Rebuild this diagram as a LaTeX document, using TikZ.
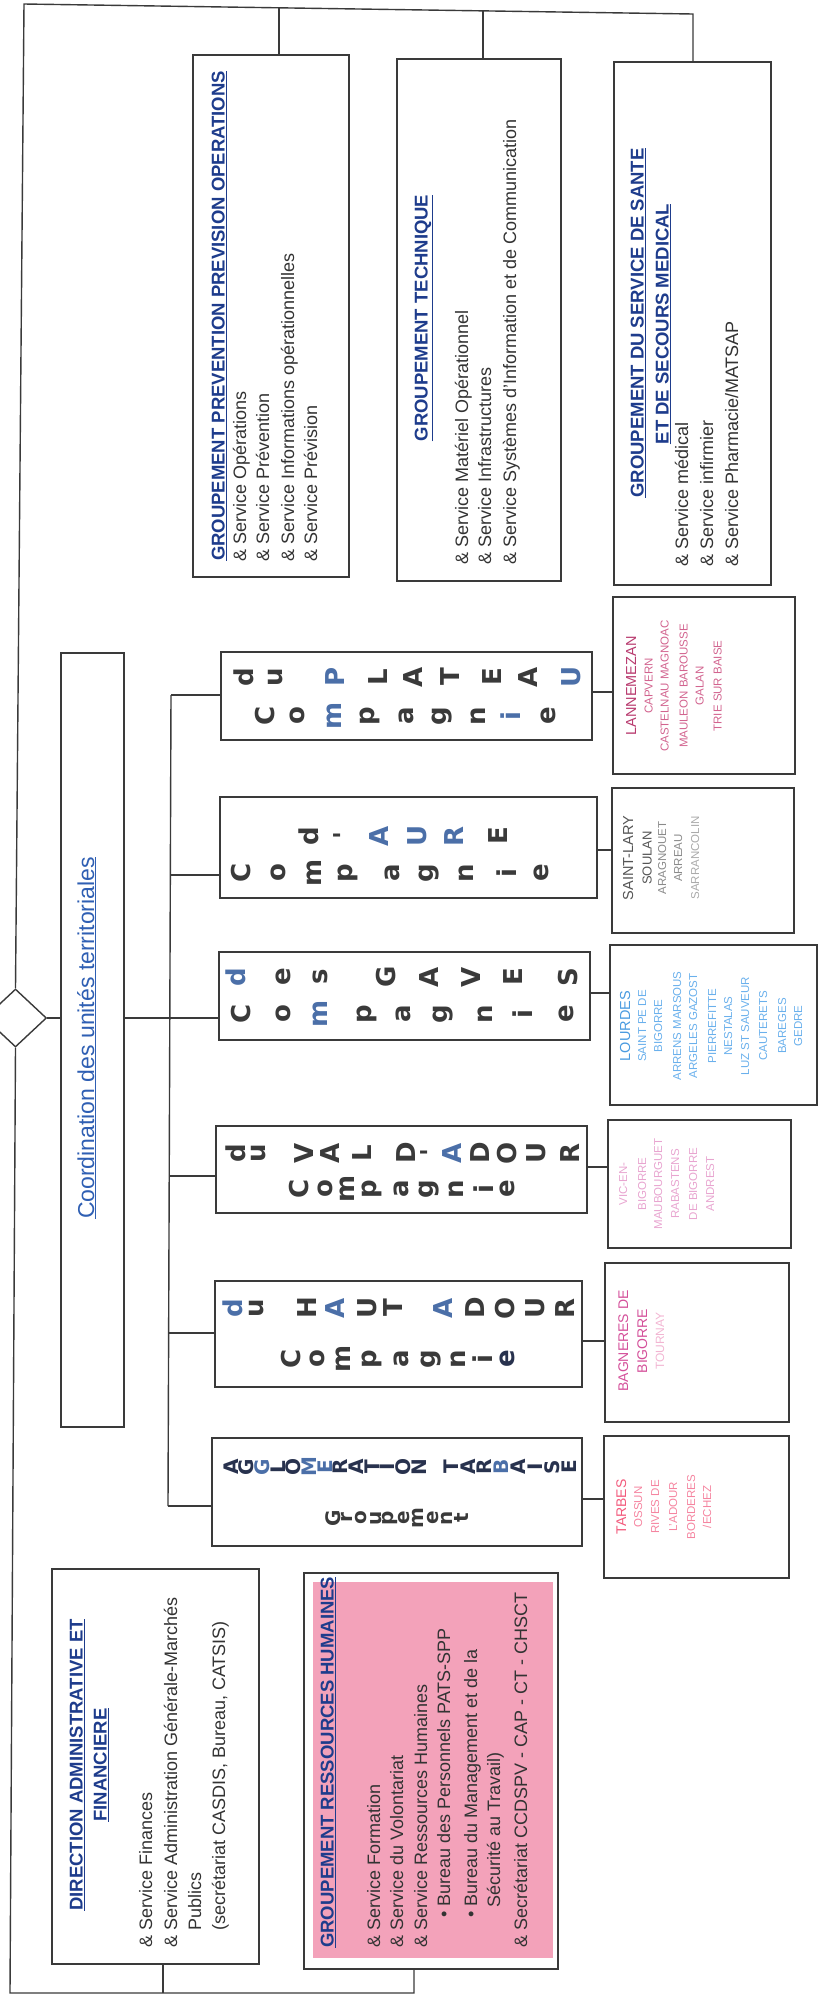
\documentclass[tikz,border=0pt]{standalone}
\usepackage{fontspec}
\setmainfont{Liberation Sans}
\newfontfamily\letterfont{DejaVu Sans}
\usetikzlibrary{fit,shapes.geometric}
\definecolor{linec}{HTML}{3A3A3A}
\definecolor{letc}{HTML}{3A3A3A}
\definecolor{letb}{HTML}{4B6FA8}
\definecolor{navyl}{HTML}{28324E}
\definecolor{headc}{HTML}{1E3C8C}
\definecolor{bodyc}{HTML}{333333}
\definecolor{coordc}{HTML}{2F5FB3}
\definecolor{pinkc}{RGB}{243,162,186}
\definecolor{lanA}{HTML}{B83A6E}
\definecolor{lanB}{HTML}{D2648F}
\definecolor{slA}{HTML}{555555}
\definecolor{slB}{HTML}{8A8A8A}
\definecolor{slC}{HTML}{AAAAAA}
\definecolor{louA}{HTML}{4A9BE0}
\definecolor{louB}{HTML}{6AB0EC}
\definecolor{vicc}{HTML}{E8A5D0}
\definecolor{bagA}{HTML}{D4509A}
\definecolor{bagB}{HTML}{F2B5D2}
\definecolor{tarA}{HTML}{F25A7C}
\definecolor{tarB}{HTML}{F585A0}
\newcounter{tn}
\newcommand\vtxt[4][]{\stepcounter{tn}\node[vt,#1] (vt\thetn) at (#2,#3) {#4};}
\newcommand\ltxt[4][]{\stepcounter{tn}\node[loc,#1] (lc\thetn) at (#2,#3) {#4};}
\begin{document}
\begin{tikzpicture}[x=1pt,y=-1pt,
  box/.style={draw=linec, line width=1.4pt, inner sep=0pt},
  conn/.style={draw=linec, line width=1.4pt},
  lt/.style={rotate=90, inner sep=0pt, font=\letterfont\bfseries\fontsize{26}{26}\selectfont, text=letc},
  lts/.style={rotate=90, inner sep=0pt, font=\letterfont\bfseries\fontsize{20}{20}\selectfont, text=letc},
  vt/.style={rotate=90, anchor=base west, inner sep=0pt, font=\fontsize{18}{22}\selectfont, text=bodyc},
  hd/.style={anchor=base, font=\bfseries\fontsize{18.5}{22}\selectfont, text=headc},
  loc/.style={rotate=90, anchor=base, inner sep=0pt, font=\fontsize{11.5}{14}\selectfont},
  big/.style={font=\fontsize{14.5}{16}\selectfont}
]
\useasboundingbox (0,0) rectangle (820,1995);

% ---------- boxes
\node[box, fit={(193,55) (349,577)}] (prev) {};
\node[box, fit={(397,59) (561,581)}] (tech) {};
\node[box, fit={(614,62) (771,585)}] (sante) {};
\node[box, fit={(61,653) (124,1427)}] (coord) {};
\node[box, fit={(221,652) (592,740)}] (plat) {};
\node[box, fit={(220,797) (597,898)}] (aure) {};
\node[box, fit={(219,952) (590,1040)}] (gaves) {};
\node[box, fit={(216,1126) (587,1213)}] (val) {};
\node[box, fit={(215,1281) (582,1387)}] (haut) {};
\node[box, fit={(212,1438) (582,1546)}] (agglo) {};
\node[box, fit={(613,597) (795,774)}] (lanne) {};
\node[box, fit={(612,788) (794,933)}] (slary) {};
\node[box, fit={(610,945) (817,1105)}] (lourdes) {};
\node[box, fit={(608,1120) (791,1248)}] (vic) {};
\node[box, fit={(605,1263) (789,1422)}] (bagn) {};
\node[box, fit={(604,1436) (789,1578)}] (tarbes) {};
\node[box, fit={(52,1569) (259,1964)}] (dir) {};
\node[fill=pinkc, inner sep=0pt, fit={(313,1582) (553,1958)}] (grhfill) {};
\node[box, fit={(304,1573) (558,1969)}] (grh) {};
\node[draw=linec, line width=1.4pt, diamond, minimum width=62pt, minimum height=58pt, inner sep=0pt] (dia) at (15.5,1018) {};

% ---------- connectors
\coordinate (c0) at (24,4);
\coordinate (cR) at (693,14);
\coordinate (d1) at (279,8);
\coordinate (d2) at (483,11);
\coordinate (cB) at (10,1993);
\coordinate (cE) at (414,1993);
\coordinate (d4) at (163,1993);
\draw[conn] (cR |- sante.north) -- (cR) -- (c0) -- (dia.north);
\draw[conn] (d1) -- (d1 |- prev.north);
\draw[conn] (d2) -- (d2 |- tech.north);
\draw[conn] (dia.south) -- (cB) -- (cE) -- (cE |- grh.south);
\draw[conn] (d4) -- (d4 |- dir.south);
\draw[conn] (dia.east) -- (dia.east -| coord.west);
\draw[conn] (coord.east |- dia.east) -- (gaves.west |- dia.east);
\coordinate (b1) at (171,695);
\coordinate (b2) at (170.5,875);
\coordinate (b4) at (169.5,1176);
\coordinate (b5) at (169,1333);
\coordinate (b6) at (168,1506);
\draw[conn] (b1) -- (b6);
\draw[conn] (b1) -- (b1 -| plat.west);
\draw[conn] (b2) -- (b2 -| aure.west);
\draw[conn] (b4) -- (b4 -| val.west);
\draw[conn] (b5) -- (b5 -| haut.west);
\draw[conn] (b6) -- (b6 -| agglo.west);
\coordinate (r1) at (600,692);
\coordinate (r2) at (600,850);
\coordinate (r3) at (600,993);
\coordinate (r4) at (600,1167);
\coordinate (r5) at (600,1341);
\coordinate (r6) at (600,1499);
\draw[conn] (r1 -| plat.east) -- (r1 -| lanne.west);
\draw[conn] (r2 -| aure.east) -- (r2 -| slary.west);
\draw[conn] (r3 -| gaves.east) -- (r3 -| lourdes.west);
\draw[conn] (r4 -| val.east) -- (r4 -| vic.west);
\draw[conn] (r5 -| haut.east) -- (r5 -| bagn.west);
\draw[conn] (r6 -| agglo.east) -- (r6 -| tarbes.west);

% ---------- stacked letters of the companies
\foreach \x/\c/\k in {244/d/letc,276/u/letc,335/P/letb,378/L/letc,413/A/letc,450/T/letc,492/E/letc,528/A/letc,571/U/letb}
  \node[lt, text=\k] (pu\x) at (\x,677) {\c};
\foreach \x/\c/\k in {265/C/letc,297/o/letc,334/m/letb,370/p/letc,406/a/letc,442/g/letc,478/n/letc,511/i/letb,548/e/letc}
  \node[lt, text=\k] (pl\x) at (\x,716) {\c};
\foreach \x/\c/\k in {309/d/letc,343/'/letc,379/A/letb,417/U/letb,454/R/letb,498/E/letc}
  \node[lt, text=\k] (au\x) at (\x,836) {\c};
\foreach \x/\c/\k in {241/C/letc,278/o/letc,314/m/letc,348/p/letc,392/a/letc,429/g/letc,466/n/letc,507/i/letc,541/e/letc}
  \node[lt, text=\k] (al\x) at (\x,873) {\c};
\foreach \x/\c/\k in {236/d/letb,283/e/letc,320/s/letc,386/G/letc,429/A/letc,471/V/letc,513/E/letc,568/S/letc}
  \node[lt, text=\k] (gu\x) at (\x,977) {\c};
\foreach \x/\c/\k in {241/C/letc,283/o/letc,320/m/letb,367/p/letc,403/a/letc,443/g/letc,485/n/letc,523/i/letc,566/e/letc}
  \node[lt, text=\k] (gl\x) at (\x,1014) {\c};
\foreach \x/\c/\k in {236/d/letc,259/u/letc,304/V/letc,330/A/letc,362/L/letc,406/D/letc,430/'/letc,452/A/letb,480/D/letc,507/O/letc,536/U/letc,570/R/letc}
  \node[lt, text=\k] (vu\x) at (\x,1153) {\c};
\foreach \x/\c/\k in {299/C/letc,325/o/letc,347/m/letc,372/p/letc,401/a/letc,429/g/letc,456/n/letc,484/i/letc,507/e/letc}
  \node[lt, text=\k] (vl\x) at (\x,1189) {\c};
\foreach \x/\c/\k in {233/d/letb,257/u/letc,307/H/letc,335/A/letb,367/U/letc,393/T/letc,443/A/letb,475/D/letc,505/O/letc,535/U/letc,565/R/letc}
  \node[lt, text=\k] (hu\x) at (\x,1308) {\c};
\foreach \x/\c/\k in {291/C/letc,317/o/letc,343/m/letc,372/p/letc,401/a/letc,431/g/letc,458/n/letc,483/i/letc,507/e/navyl}
  \node[lt, text=\k] (hl\x) at (\x,1359) {\c};
\foreach \x/\c/\k in {231/A/navyl,246.7/G/navyl,262.3/G/letb,278/L/navyl,293.7/O/navyl,309.3/M/letb,325/E/letb,340.7/R/navyl,356.3/A/navyl,372/T/navyl,387.7/I/navyl,403.3/O/navyl,419/N/navyl,451/T/navyl,467.9/A/navyl,484.7/R/navyl,501.6/B/letb,518.4/A/navyl,535.3/I/navyl,552.1/S/navyl,569/E/navyl}
  \node[lts, text=\k] (tu\x) at (\x,1467) {\c};
\foreach \x/\c in {333/G,347/r,361/o,376/u,390/p,404/e,418/m,433/e,447/n,461/t}
  \node[lts] (tl\x) at (\x,1518) {\c};

% ---------- Coordination
\node[rotate=90, anchor=base, inner sep=0pt, font=\fontsize{23}{26}\selectfont, text=coordc] (coordt) at (94,1038) {\underline{Coordination des unités territoriales}};

% ---------- Groupement Prévention
\vtxt[hd]{224.5}{316}{\underline{GROUPEMENT PREVENTION PREVISION OPERATIONS}}
\vtxt{246}{562}{\& Service Opérations}
\vtxt{269}{562}{\& Service Prévention}
\vtxt{294}{562}{\& Service Informations opérationnelles}
\vtxt{317}{562}{\& Service Prévision}
% ---------- Groupement Technique
\vtxt[hd]{427.5}{318}{\underline{GROUPEMENT TECHNIQUE}}
\vtxt{468}{565}{\& Service Matériel Opérationnel}
\vtxt{491}{565}{\& Service Infrastructures}
\vtxt{516}{565}{\& Service Systèmes d'Information et de Communication}
% ---------- Santé
\vtxt[hd]{643.5}{323}{\underline{GROUPEMENT DU SERVICE DE SANTE}}
\vtxt[hd]{668.5}{324}{\underline{ET DE SECOURS MEDICAL}}
\vtxt{688}{567}{\& Service médical}
\vtxt{713}{567}{\& Service infirmier}
\vtxt{738}{567}{\& Service Pharmacie/MATSAP}
% ---------- Direction
\vtxt[hd]{82.5}{1765}{\underline{DIRECTION ADMINISTRATIVE ET}}
\vtxt[hd]{106.5}{1765}{\underline{FINANCIERE}}
\vtxt{152}{1948}{\& Service Finances}
\vtxt{177}{1948}{\& Service Administration Générale-Marchés}
\vtxt{201}{1931}{Publics}
\vtxt{225}{1931}{(secrétariat CASDIS, Bureau, CATSIS)}
% ---------- GRH
\vtxt[hd, anchor=base west]{333.5}{1948}{\underline{GROUPEMENT RESSOURCES HUMAINES}}
\vtxt{380}{1948}{\& Service Formation}
\vtxt{403}{1948}{\& Service du Volontariat}
\vtxt{427}{1948}{\& Service Ressources Humaines}
\vtxt{450}{1918}{\textbullet\ Bureau des Personnels PATS-SPP}
\vtxt{477}{1918}{\textbullet\ Bureau du Management et de la}
\vtxt{500}{1908}{Sécurité au Travail)}
\vtxt{527}{1948}{\& Secrétariat CCDSPV - CAP - CT - CHSCT}

% ---------- Lannemezan
\ltxt[big, text=lanA]{636}{686}{LANNEMEZAN}
\ltxt[text=lanB]{652.5}{686}{CAPVERN}
\ltxt[text=lanB]{668.5}{686}{CASTELNAU MAGNOAC}
\ltxt[text=lanB]{687.5}{686}{MAULEON BAROUSSE}
\ltxt[text=lanB]{703.5}{686}{GALAN}
\ltxt[text=lanB]{721.5}{686}{TRIE SUR BAISE}
% ---------- Saint-Lary
\ltxt[big, text=slA]{633}{858}{SAINT-LARY}
\ltxt[text=slA, font=\fontsize{13}{15}\selectfont]{651.5}{858}{SOULAN}
\ltxt[text=slB]{666}{858}{ARAGNOUET}
\ltxt[text=slB]{682}{858}{ARREAU}
\ltxt[text=slC]{699}{858}{SARRANCOLIN}
% ---------- Lourdes
\ltxt[big, text=louA]{630}{1026}{LOURDES}
\ltxt[text=louB]{646}{1026}{SAINT PE DE}
\ltxt[text=louB]{662}{1026}{BIGORRE}
\ltxt[text=louB]{681}{1026}{ARRENS MARSOUS}
\ltxt[text=louB]{697}{1026}{ARGELES GAZOST}
\ltxt[text=louB]{716}{1026}{PIERREFITTE}
\ltxt[text=louB]{732}{1026}{NESTALAS}
\ltxt[text=louB]{749}{1026}{LUZ ST SAUVEUR}
\ltxt[text=louB]{767}{1026}{CAUTERETS}
\ltxt[text=louB]{786}{1026}{BAREGES}
\ltxt[text=louB]{802}{1026}{GEDRE}
% ---------- Vic
\ltxt[text=vicc]{627}{1184}{VIC-EN-}
\ltxt[text=vicc]{646}{1184}{BIGORRE}
\ltxt[text=vicc]{662}{1184}{MAUBOURGUET}
\ltxt[text=vicc]{679}{1184}{RABASTENS}
\ltxt[text=vicc]{697}{1184}{DE BIGORRE}
\ltxt[text=vicc]{714}{1184}{ANDREST}
% ---------- Bagneres
\ltxt[text=bagA, font=\fontsize{14}{16}\selectfont]{628}{1341}{BAGNERES DE}
\ltxt[text=bagA, font=\fontsize{14}{16}\selectfont]{647}{1341}{BIGORRE}
\ltxt[text=bagB, font=\fontsize{12}{14}\selectfont]{664}{1341}{TOURNAY}
% ---------- Tarbes
\ltxt[text=tarA, font=\fontsize{14}{16}\selectfont]{626}{1507}{TARBES}
\ltxt[text=tarB]{642}{1507}{OSSUN}
\ltxt[text=tarB]{659}{1507}{RIVES DE}
\ltxt[text=tarB]{677}{1507}{L'ADOUR}
\ltxt[text=tarB]{695}{1507}{BORDERES}
\ltxt[text=tarB]{711}{1507}{/ECHEZ}
\end{tikzpicture}
\end{document}
